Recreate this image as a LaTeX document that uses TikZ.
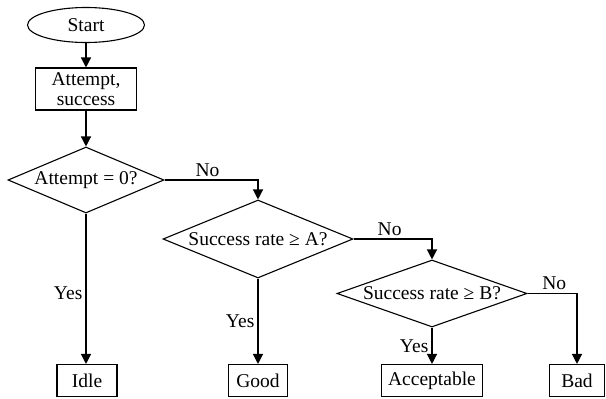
\documentclass[tikz,border=0pt]{standalone}
\usepackage{fontspec}
\setmainfont{Liberation Serif}
\usetikzlibrary{shapes.geometric,arrows.meta}
\begin{document}
\begin{tikzpicture}[x=1pt,y=-1pt,
  every node/.style={font=\fontsize{19.5}{20.5}\selectfont},
  line/.style={line width=1.2pt},
  arr/.style={line width=1.3pt,-{Triangle[length=10pt,width=10pt]}},
  term/.style={ellipse,draw,line width=1.1pt,inner sep=0pt,minimum width=117pt,minimum height=35pt},
  proc/.style={rectangle,draw,line width=1.1pt,inner sep=1pt,align=center,minimum height=32pt},
  dec/.style={diamond,draw,line width=1.1pt,inner sep=0pt},
  lab/.style={inner sep=3pt}]
\useasboundingbox (0,0) rectangle (606,399);
\node[term] (start) at (86,25) {Start};
\node[proc,minimum width=101pt,minimum height=42pt] (init) at (86,89) {Attempt,\\success};
\node[dec,minimum width=156pt,minimum height=66pt,label=center:{Attempt = 0?}] (d1) at (86,180) {};
\node[dec,minimum width=190pt,minimum height=78pt,label=center:{Success rate ≥ A?}] (d2) at (258,239) {};
\node[dec,minimum width=190pt,minimum height=67pt,label=center:{Success rate ≥ B?}] (d3) at (432,293.5) {};
\node[proc,minimum width=60pt] (idle) at (87,380.5) {Idle};
\node[proc,minimum width=59pt] (good) at (258,380.5) {Good};
\node[proc,minimum width=101pt] (acc) at (432,380.5) {Acceptable};
\node[proc,minimum width=55pt] (bad) at (577,380.5) {Bad};
\draw[arr] (start) -- (init);
\draw[arr] (init) -- (d1);
\draw[arr] (d1.east) -| node[lab,pos=0.23,above] (no1) {No} (d2.north);
\draw[arr] (d2.east) -| node[lab,pos=0.23,above] (no2) {No} (d3.north);
\draw[arr] (d3.east) -| node[lab,pos=0.27,above] (no3) {No} (bad.north);
\draw[arr] (d1.south) -- node[lab,pos=0.53,left] (yes1) {Yes} (d1.south |- idle.north);
\draw[arr] (d2.south) -- node[lab,pos=0.5,left] (yes2) {Yes} (good.north);
\draw[arr] (d3.south) -- node[lab,pos=0.5,left] (yes3) {Yes} (acc.north);
\end{tikzpicture}
\end{document}
